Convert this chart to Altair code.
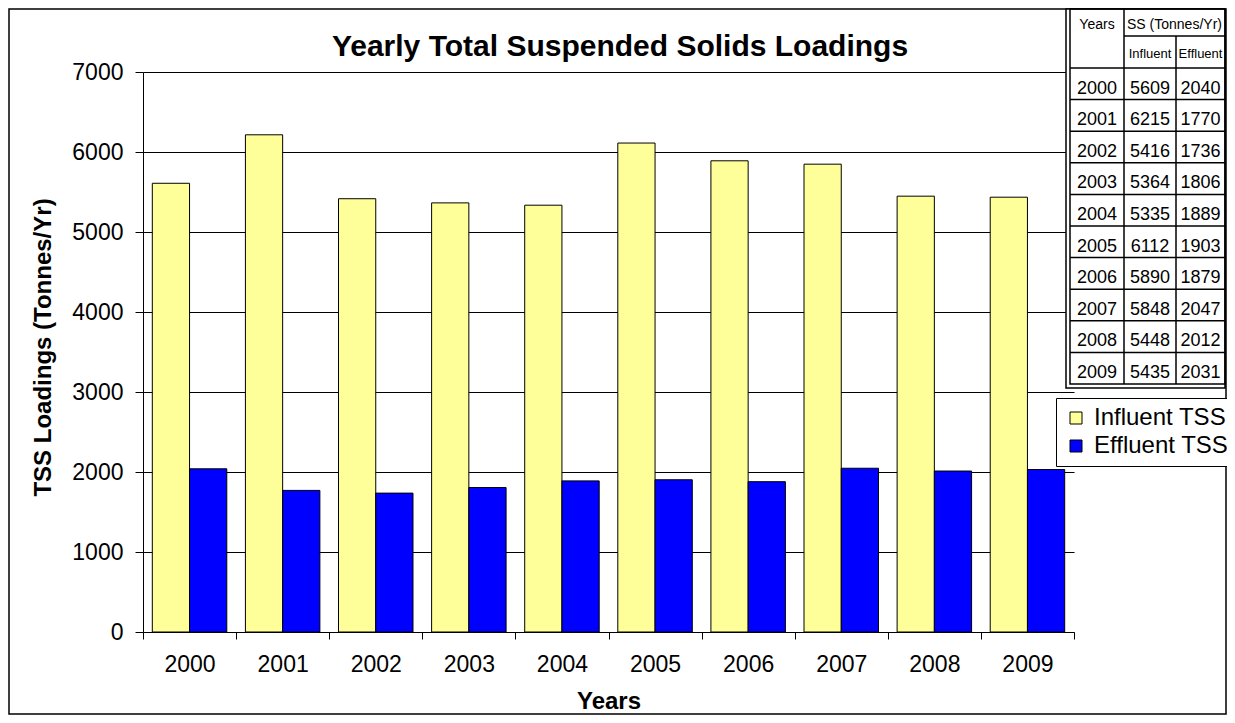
import altair as alt
import pandas as pd

# ---- data ----
years = ["2000", "2001", "2002", "2003", "2004", "2005", "2006", "2007", "2008", "2009"]
influent = [5609, 6215, 5416, 5364, 5335, 6112, 5890, 5848, 5448, 5435]
effluent = [2040, 1770, 1736, 1806, 1889, 1903, 1879, 2047, 2012, 2031]
series = ["Influent TSS", "Effluent TSS"]
colors = ["#FFFF99", "#0000FF"]
y_ticks = [0, 1000, 2000, 3000, 4000, 5000, 6000, 7000]

title_text = "Yearly Total Suspended Solids Loadings"
y_title = "TSS Loadings (Tonnes/Yr)"
x_title = "Years"
tbl_head_years = "Years"
tbl_head_ss = "SS (Tonnes/Yr)"
tbl_head_inf = "Influent"
tbl_head_eff = "Effluent"

FONT = "Liberation Sans"
NARROW = "Liberation Sans Narrow, Liberation Sans"

# ---- layout constants (pixels, relative to plot area) ----
W, H = 931, 560
T_LEFT_OUT, T_LEFT_IN, T_C1, T_C2, T_RIGHT = 923, 927, 981, 1033, 1082
T_TOP, T_SS_LINE, ROW0, ROWH = -63, -36, -4, 31.6
T_BOT_IN, T_BOT_OUT = 312, 316

bars_df = pd.DataFrame({
    "year": years * 2,
    "series": [series[0]] * len(years) + [series[1]] * len(years),
    "value": influent + effluent,
})

bars = alt.Chart(bars_df).mark_bar(stroke="black", strokeWidth=1).encode(
    x=alt.X("year:N", sort=years,
            scale=alt.Scale(paddingInner=0, paddingOuter=0),
            axis=alt.Axis(title=x_title, labelAngle=0, tickBand="extent",
                          labelFontSize=23, labelPadding=14, tickSize=7,
                          titleFontSize=24, titleFontWeight="bold",
                          titleBaseline="alphabetic", titleY=76, grid=False)),
    xOffset=alt.XOffset("series:N", sort=series,
                        scale=alt.Scale(paddingInner=0, paddingOuter=0.25)),
    y=alt.Y("value:Q", scale=alt.Scale(domain=[0, 7000], nice=False),
            axis=alt.Axis(title=y_title, values=y_ticks, format="d",
                          labelFontSize=23, labelPadding=12, tickSize=8,
                          grid=True, gridColor="black", gridOpacity=1, gridWidth=1,
                          titleFontSize=24, titleFontWeight="bold",
                          titleX=-93, titleY=275, titleAlign="center",
                          titleBaseline="alphabetic")),
    color=alt.Color("series:N", sort=series,
                    scale=alt.Scale(domain=series, range=colors),
                    legend=alt.Legend(title=None, orient="none", legendX=913, legendY=326,
                                      padding=8, strokeColor="black", fillColor="white",
                                      labelFontSize=24, labelFont=FONT, labelColor="black",
                                      symbolType="square", symbolSize=144,
                                      symbolStrokeColor="black", symbolStrokeWidth=1,
                                      rowPadding=4, labelOffset=6)),
)

one = pd.DataFrame({"o": [0]})

border = alt.Chart(one).mark_rect(filled=False, stroke="black", strokeWidth=1.5).encode(
    x=alt.value(-134), x2=alt.value(1083), y=alt.value(-63), y2=alt.value(642))

title_mark = alt.Chart(one).mark_text(
    text=title_text, font=FONT, fontSize=30, fontWeight="bold", color="black",
    align="center", baseline="alphabetic").encode(x=alt.value(477), y=alt.value(-16))

tbl_bg = alt.Chart(one).mark_rect(fill="white", stroke="black", strokeWidth=1.5).encode(
    x=alt.value(T_LEFT_OUT), x2=alt.value(T_RIGHT), y=alt.value(T_TOP), y2=alt.value(T_BOT_OUT))
tbl_inner = alt.Chart(one).mark_rect(filled=False, stroke="black", strokeWidth=1.5).encode(
    x=alt.value(T_LEFT_IN), x2=alt.value(T_RIGHT), y=alt.value(T_TOP), y2=alt.value(T_BOT_IN))

vline1 = alt.Chart(one).mark_rule(color="black", strokeWidth=1.5).encode(
    x=alt.value(T_C1), y=alt.value(T_TOP), y2=alt.value(T_BOT_IN))
vline2 = alt.Chart(one).mark_rule(color="black", strokeWidth=1.5).encode(
    x=alt.value(T_C2), y=alt.value(T_SS_LINE), y2=alt.value(T_BOT_IN))
ss_line = alt.Chart(one).mark_rule(color="black", strokeWidth=1.5).encode(
    x=alt.value(T_C1), x2=alt.value(T_RIGHT), y=alt.value(T_SS_LINE))

lines_df = pd.DataFrame({"k": list(range(len(years)))})
row_lines = alt.Chart(lines_df).transform_calculate(
    ly=f"{ROW0} + {ROWH} * datum.k"
).mark_rule(color="black", strokeWidth=1.5).encode(
    x=alt.value(T_LEFT_IN), x2=alt.value(T_RIGHT),
    y=alt.Y("ly:Q", scale=None, axis=None))

tbl = pd.DataFrame({"year": years, "inf": influent, "eff": effluent,
                    "row": list(range(len(years)))})
tbase = alt.Chart(tbl).transform_calculate(ty=f"{ROW0} + {ROWH} * (datum.row + 1) - 6")
tstyle = dict(font=NARROW, fontSize=18, align="center", baseline="alphabetic", color="black")
t_year = tbase.mark_text(**tstyle).encode(
    x=alt.value((T_LEFT_IN + T_C1) / 2), y=alt.Y("ty:Q", scale=None, axis=None), text="year:N")
t_inf = tbase.mark_text(**tstyle).encode(
    x=alt.value((T_C1 + T_C2) / 2), y=alt.Y("ty:Q", scale=None, axis=None),
    text=alt.Text("inf:Q", format="d"))
t_eff = tbase.mark_text(**tstyle).encode(
    x=alt.value((T_C2 + T_RIGHT) / 2), y=alt.Y("ty:Q", scale=None, axis=None),
    text=alt.Text("eff:Q", format="d"))

hstyle = dict(font=NARROW, fontSize=14, align="center", baseline="alphabetic", color="black")
h_years = alt.Chart(one).mark_text(text=tbl_head_years, **hstyle).encode(
    x=alt.value((T_LEFT_IN + T_C1) / 2), y=alt.value(-43))
h_ss = alt.Chart(one).mark_text(text=tbl_head_ss, **hstyle).encode(
    x=alt.value((T_C1 + T_RIGHT) / 2), y=alt.value(-43))
sstyle = dict(font=NARROW, fontSize=13, align="center", baseline="alphabetic", color="black")
h_inf = alt.Chart(one).mark_text(text=tbl_head_inf, **sstyle).encode(
    x=alt.value((T_C1 + T_C2) / 2), y=alt.value(-14))
h_eff = alt.Chart(one).mark_text(text=tbl_head_eff, **sstyle).encode(
    x=alt.value((T_C2 + T_RIGHT) / 2), y=alt.value(-14))

chart = alt.layer(
    border, title_mark, bars, tbl_bg, tbl_inner, row_lines, vline1, vline2, ss_line,
    t_year, t_inf, t_eff, h_years, h_ss, h_inf, h_eff,
).properties(
    width=W, height=H,
    padding={"left": 135, "top": 64, "right": 153, "bottom": 83},
    autosize=alt.AutoSizeParams(type="none"),
    background="white",
).configure(font=FONT).configure_view(stroke=None).configure_axis(
    labelColor="black", tickColor="black", domainColor="black", titleColor="black",
    labelFont=FONT, titleFont=FONT, domainWidth=1, tickWidth=1,
)

chart.save("out.html", embed_options={"renderer": "svg", "actions": False})
